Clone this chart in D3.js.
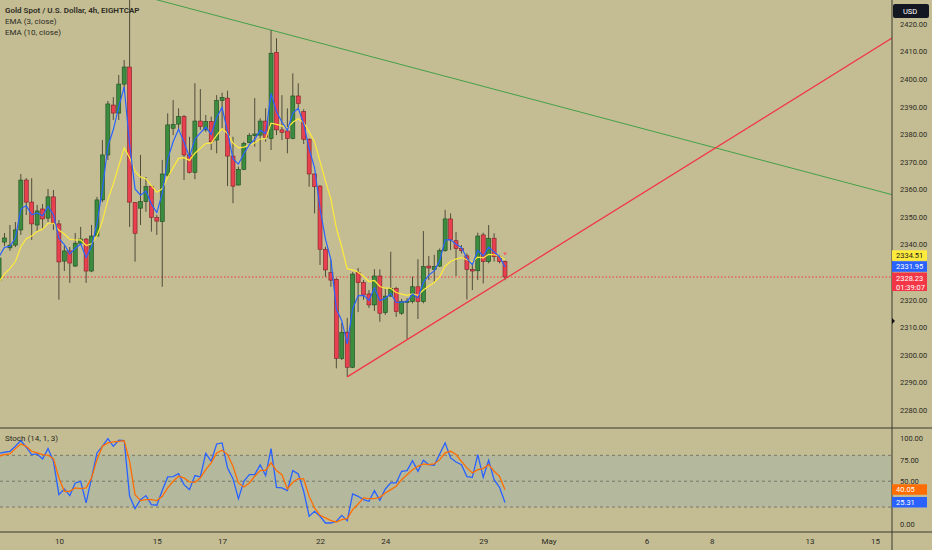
<!DOCTYPE html>
<html>
<head>
<meta charset="utf-8">
<script src="https://cdn.jsdelivr.net/npm/d3@7"></script>
<style>
  body { margin: 0; background: #c4bd94; }
  svg { display: block; font-family: Roboto, 'Noto Sans', sans-serif; }
</style>
</head>
<body>
<div id="chart-area"></div>
<script>
// 4h bars, index 0 = first full bar on screen, day labels sit on a day's first bar
const firstBar = -1;
const opens = [2327.1, 2340.9, 2338.8, 2339.8, 2345.3, 2363.4, 2355.4, 2347.1, 2352.9, 2349.6,
  2357.3, 2347.5, 2334.0, 2337.7, 2332.2, 2340.5, 2342.0, 2330.4, 2343.1, 2356.2,
  2372.5, 2390.6, 2387.7, 2398.2, 2404.4, 2355.2, 2353.2, 2355.6, 2361.0, 2349.8,
  2348.3, 2365.2, 2382.2, 2383.7, 2386.4, 2372.5, 2366.2, 2384.8, 2381.6, 2384.6,
  2377.9, 2392.2, 2393.1, 2372.1, 2361.6, 2367.3, 2377.0, 2379.5, 2379.7, 2384.8,
  2378.5, 2409.7, 2381.6, 2381.2, 2378.5, 2393.9, 2388.2, 2378.2, 2365.6, 2361.2,
  2338.3, 2329.8, 2327.4, 2298.7, 2308.2, 2295.5, 2329.8, 2326.2, 2322.1, 2318.1,
  2328.6, 2315.3, 2321.3, 2324.1, 2315.1, 2319.0, 2319.3, 2324.7, 2319.3, 2332.2,
  2331.0, 2332.2, 2337.8, 2349.3, 2341.4, 2338.6, 2335.9, 2331.0, 2330.5, 2343.5,
  2333.8, 2342.3, 2335.6, 2333.8];
const highs = [2336.6, 2344.2, 2347.1, 2348.2, 2365.6, 2364.1, 2364.1, 2354.4, 2354.7, 2360.2,
  2359.8, 2348.9, 2339.5, 2339.1, 2344.2, 2346.4, 2342.4, 2347.1, 2357.3, 2377.9,
  2392.1, 2393.5, 2401.5, 2406.9, 2431.4, 2355.4, 2372.5, 2364.5, 2361.6, 2350.7,
  2370.7, 2387.6, 2392.4, 2389.4, 2387.0, 2379.1, 2398.5, 2396.4, 2387.0, 2386.4,
  2394.2, 2395.1, 2395.8, 2379.1, 2368.3, 2377.3, 2380.4, 2393.1, 2385.8, 2389.4,
  2417.8, 2414.8, 2394.2, 2389.4, 2402.1, 2398.5, 2389.1, 2378.5, 2365.8, 2361.6,
  2339.2, 2334.4, 2327.8, 2311.6, 2313.4, 2330.0, 2331.5, 2327.1, 2323.5, 2331.1,
  2331.0, 2324.1, 2337.4, 2324.7, 2320.3, 2320.6, 2328.4, 2334.7, 2344.9, 2335.9,
  2336.3, 2338.6, 2352.6, 2351.3, 2344.6, 2339.8, 2336.8, 2333.2, 2344.3, 2344.3,
  2347.1, 2344.1, 2336.3, 2334.2];
const lows = [2323.5, 2339.5, 2337.7, 2339.1, 2343.5, 2350.7, 2341.7, 2344.9, 2345.3, 2348.2,
  2345.3, 2320.0, 2330.4, 2326.1, 2331.9, 2339.8, 2326.1, 2330.0, 2342.7, 2355.4,
  2370.7, 2385.2, 2385.2, 2396.1, 2346.4, 2333.8, 2347.1, 2351.9, 2344.7, 2343.5,
  2324.7, 2364.6, 2379.7, 2381.6, 2363.4, 2365.8, 2363.7, 2381.6, 2380.9, 2374.3,
  2373.1, 2381.6, 2361.2, 2355.0, 2361.4, 2367.0, 2376.7, 2375.5, 2370.1, 2377.3,
  2374.3, 2379.7, 2377.9, 2373.1, 2378.2, 2389.4, 2376.5, 2361.0, 2351.3, 2332.6,
  2328.3, 2324.7, 2295.1, 2298.1, 2292.0, 2295.2, 2315.5, 2320.0, 2317.0, 2315.9,
  2312.0, 2314.5, 2321.0, 2313.8, 2314.5, 2305.5, 2318.7, 2313.0, 2318.7, 2327.1,
  2326.5, 2331.9, 2337.4, 2338.0, 2328.6, 2336.8, 2320.1, 2323.5, 2327.1, 2325.9,
  2333.2, 2333.8, 2333.2, 2327.1];
const closes = [2335.1, 2342.4, 2339.8, 2345.3, 2363.4, 2355.4, 2347.5, 2352.2, 2349.3, 2357.3,
  2347.8, 2333.7, 2337.7, 2333.3, 2340.5, 2342.0, 2330.4, 2343.1, 2356.2, 2372.5,
  2391.0, 2387.7, 2398.2, 2404.4, 2355.4, 2344.1, 2355.6, 2361.0, 2349.9, 2348.5,
  2365.6, 2383.4, 2383.6, 2386.4, 2372.5, 2366.2, 2384.8, 2382.8, 2384.6, 2377.3,
  2392.2, 2393.4, 2372.1, 2361.2, 2367.3, 2376.7, 2379.5, 2380.1, 2384.8, 2378.9,
  2409.4, 2381.6, 2380.7, 2378.5, 2393.9, 2391.2, 2378.2, 2365.6, 2361.0, 2338.3,
  2330.8, 2327.1, 2298.7, 2308.2, 2295.5, 2329.3, 2326.2, 2321.7, 2318.1, 2328.6,
  2315.1, 2321.3, 2324.1, 2315.7, 2319.3, 2319.5, 2324.7, 2319.3, 2332.0, 2331.5,
  2332.0, 2337.8, 2349.3, 2341.7, 2338.6, 2337.8, 2331.0, 2330.4, 2343.1, 2333.8,
  2342.3, 2335.6, 2333.8, 2328.23];

// EMA values on the first visible bar (history is off screen)
const ema3Start = 2335.6;
const ema10Start = 2326.5;

const stochK = [82.4, 83.6, 84.7, 90.5, 97.1, 89.4, 80.9, 81.6, 75.8, 87.8,
  73.1, 34.4, 41.0, 33.3, 48.0, 49.9, 24.8, 53.8, 82.8, 90.5,
  99.4, 90.5, 97.5, 97.1, 32.5, 18.2, 28.6, 33.3, 22.8, 22.1,
  39.1, 54.9, 55.3, 58.8, 46.0, 40.2, 56.5, 54.9, 82.4, 73.1,
  93.2, 94.4, 65.4, 53.0, 29.8, 49.9, 57.6, 57.6, 69.0, 56.5,
  87.8, 42.9, 42.2, 39.1, 62.3, 58.4, 38.3, 9.3, 15.1, 9.3,
  1.5, 1.5, 3.5, 10.4, 4.3, 35.2, 32.5, 28.6, 26.7, 39.1,
  27.9, 41.0, 48.0, 48.0, 61.5, 62.3, 73.9, 61.5, 74.3, 69.2,
  68.5, 81.6, 94.4, 77.0, 72.3, 69.2, 55.3, 54.5, 80.9, 54.5,
  74.3, 51.8, 42.9, 25.31];
const stochD = [78.9, 80.9, 81.6, 87.8, 93.2, 90.5, 84.7, 82.8, 80.9, 80.1,
  76.2, 53.8, 38.3, 38.3, 42.2, 41.4, 42.2, 53.8, 75.0, 90.5,
  94.4, 95.6, 96.3, 97.1, 73.1, 34.4, 27.5, 28.6, 28.6, 27.5,
  32.5, 42.2, 49.9, 55.7, 53.8, 49.1, 48.7, 53.8, 63.4, 71.2,
  82.8, 85.9, 80.9, 67.3, 48.0, 43.3, 48.0, 55.7, 62.3, 62.7,
  71.2, 62.3, 57.6, 41.0, 48.7, 53.0, 52.6, 32.5, 19.0, 10.4,
  7.4, 4.3, 2.7, 5.4, 6.6, 17.0, 23.6, 30.6, 29.8, 29.8,
  31.3, 36.4, 40.2, 44.1, 51.8, 57.6, 63.4, 67.3, 70.0, 69.2,
  70.0, 75.0, 82.8, 84.7, 80.9, 73.1, 65.4, 59.6, 63.4, 64.6,
  69.2, 61.5, 55.7, 40.05];

const dayBars = [10, 28, 40, 58, 70, 88, 100, 118, 130, 148, 160];
const dayLabels = ['10', '15', '17', '22', '24', '29', 'May', '6', '8', '13', '15'];
// 2330 and 25 sit under the value tags, so they are not labelled
const priceTicks = [2280, 2290, 2300, 2310, 2320, 2340, 2350, 2360, 2370, 2380, 2390, 2400, 2410, 2420];
const stochTicks = [0, 50, 75, 100];
const stochBands = [20, 50, 80];

// trend lines: two anchors each [bar, price], extended to the right
const greenLine = [[23, 2431.4], [49, 2417.8]];
const redLine = [[63, 2292.0], [74, 2305.5]];

const lastPrice = 2328.23;
const countdown = '01:39:07';
const emaTags = [2334.51, 2331.95];   // EMA 10, EMA 3
const stochTags = [40.05, 25.31];     // %D, %K

const legendLines = ['Gold Spot / U.S. Dollar, 4h, EIGHTCAP', 'EMA (3, close)', 'EMA (10, close)'];

const width = 932, height = 550;
const paneRight = 892, mainBottom = 428, stochBottom = 532;

const bg = '#c4bd94', ink = '#2b2a22';
const upColor = '#3b8c3f', downColor = '#e8404e';

const svg = d3.select('#chart-area')
    .append('svg')
    .attr('width', width)
    .attr('height', height);

svg.append('rect').attr('width', width).attr('height', height).attr('fill', bg);

const defs = svg.append('defs');
defs.append('clipPath').attr('id', 'clip-main')
    .append('rect').attr('x', 0).attr('y', 0).attr('width', paneRight).attr('height', mainBottom);
defs.append('clipPath').attr('id', 'clip-stoch')
    .append('rect').attr('x', 0).attr('y', mainBottom).attr('width', paneRight).attr('height', stochBottom - mainBottom);

const xScale = d3.scaleLinear().domain([0, 160]).range([4.5, 4.5 + 160 * 5.44]);
const yScale = d3.scaleLinear().domain([2280, 2420]).range([410, 24]);
const stochY = d3.scaleLinear().domain([0, 100]).range([524.3, 438.1]);

const bars = opens.map((o, k) => ({
    i: firstBar + k, o: o, h: highs[k], l: lows[k], c: closes[k]
}));

function ema(values, period, start) {
    const a = 2 / (period + 1);
    const out = [start];
    for (let k = 1; k < values.length; k++) {
        out.push(out[k - 1] + a * (values[k] - out[k - 1]));
    }
    return out;
}

const ema3 = ema(closes, 3, ema3Start);
const ema10 = ema(closes, 10, ema10Start);

// ---- main pane
const main = svg.append('g').attr('clip-path', 'url(#clip-main)');

function trend(anchors) {
    const [a, b] = anchors;
    const slope = (b[1] - a[1]) / (b[0] - a[0]);
    const endBar = xScale.invert(paneRight);
    return [[a[0], a[1]], [endBar, a[1] + slope * (endBar - a[0])]];
}

main.append('line')
    .datum(trend(greenLine))
    .attr('x1', d => xScale(d[0][0])).attr('y1', d => yScale(d[0][1]))
    .attr('x2', d => xScale(d[1][0])).attr('y2', d => yScale(d[1][1]))
    .attr('stroke', '#43a047').attr('stroke-width', 1);

main.append('line')
    .attr('x1', 0).attr('x2', paneRight)
    .attr('y1', yScale(lastPrice)).attr('y2', yScale(lastPrice))
    .attr('stroke', '#f23645').attr('stroke-width', 1)
    .attr('stroke-dasharray', '1.5,2');

const candles = main.append('g').selectAll('g')
    .data(bars)
    .enter().append('g');

candles.append('line')
    .attr('x1', d => xScale(d.i)).attr('x2', d => xScale(d.i))
    .attr('y1', d => yScale(d.h)).attr('y2', d => yScale(d.l))
    .attr('stroke', '#4f4c3a').attr('stroke-width', 1);

candles.append('rect')
    .attr('x', d => xScale(d.i) - 2)
    .attr('width', 4)
    .attr('y', d => yScale(Math.max(d.o, d.c)))
    .attr('height', d => Math.max(1, Math.abs(yScale(d.o) - yScale(d.c))))
    .attr('fill', d => d.c >= d.o ? upColor : downColor)
    .attr('stroke', d => d.c >= d.o ? '#1f4a22' : '#7c2028')
    .attr('stroke-width', 0.6);

const priceLine = (vals) => d3.line()
    .x((v, k) => xScale(firstBar + k))
    .y(v => yScale(v))(vals);

main.append('path').attr('d', priceLine(ema10))
    .attr('fill', 'none').attr('stroke', '#ffeb3b').attr('stroke-width', 1.2);
main.append('path').attr('d', priceLine(ema3))
    .attr('fill', 'none').attr('stroke', '#2962ff').attr('stroke-width', 1.2);

main.append('line')
    .datum(trend(redLine))
    .attr('x1', d => xScale(d[0][0])).attr('y1', d => yScale(d[0][1]))
    .attr('x2', d => xScale(d[1][0])).attr('y2', d => yScale(d[1][1]))
    .attr('stroke', '#f23645').attr('stroke-width', 1.3);

// small marker above the last bar
const lastBar = bars[bars.length - 1];
const mx = xScale(lastBar.i), my = yScale(lastBar.h) - 6;
main.append('path')
    .attr('d', `M${mx - 2},${my - 2}L${mx + 2},${my - 2}L${mx},${my + 1}Z`)
    .attr('fill', '#f0606b');

// legend
svg.append('g').selectAll('text')
    .data(legendLines)
    .enter().append('text')
    .attr('x', 5)
    .attr('y', (d, k) => 13 + k * 11)
    .attr('font-size', 8)
    .attr('font-weight', (d, k) => k === 0 ? 600 : 400)
    .attr('fill', ink)
    .text(d => d);

// ---- stochastic pane
const stoch = svg.append('g').attr('clip-path', 'url(#clip-stoch)');

stoch.append('rect')
    .attr('x', 0).attr('width', paneRight)
    .attr('y', stochY(80)).attr('height', stochY(20) - stochY(80))
    .attr('fill', '#b4b99e');

stoch.selectAll('.band')
    .data(stochBands)
    .enter().append('line')
    .attr('class', 'band')
    .attr('x1', 0).attr('x2', paneRight)
    .attr('y1', d => stochY(d)).attr('y2', d => stochY(d))
    .attr('stroke', '#66665a').attr('stroke-width', 0.8)
    .attr('stroke-dasharray', '3,3');

const stochLine = (vals) => d3.line()
    .x((v, k) => xScale(firstBar + k))
    .y(v => stochY(v))(vals);

stoch.append('path').attr('d', stochLine(stochK))
    .attr('fill', 'none').attr('stroke', '#2962ff').attr('stroke-width', 1.3);
stoch.append('path').attr('d', stochLine(stochD))
    .attr('fill', 'none').attr('stroke', '#ff6d00').attr('stroke-width', 1.3);

svg.append('text')
    .attr('x', 5).attr('y', 441)
    .attr('font-size', 8).attr('fill', ink)
    .text('Stoch (14, 1, 3)');

// ---- separators and axes
svg.append('line').attr('x1', 0).attr('x2', width).attr('y1', mainBottom).attr('y2', mainBottom)
    .attr('stroke', '#3a392d').attr('stroke-width', 1);
svg.append('line').attr('x1', 0).attr('x2', width).attr('y1', stochBottom).attr('y2', stochBottom)
    .attr('stroke', '#3a392d').attr('stroke-width', 1);
svg.append('line').attr('x1', paneRight).attr('x2', paneRight).attr('y1', 0).attr('y2', height)
    .attr('stroke', '#3a392d').attr('stroke-width', 1);

const yAxisGroup = svg.append('g')
    .attr('transform', 'translate(' + (paneRight + 4) + ', 0)')
    .call(d3.axisRight(yScale).tickValues(priceTicks).tickFormat(d3.format('.2f')).tickSize(0));

const stochAxisGroup = svg.append('g')
    .attr('transform', 'translate(' + (paneRight + 4) + ', 0)')
    .call(d3.axisRight(stochY).tickValues(stochTicks).tickFormat(d3.format('.2f')).tickSize(0));

const xAxisGroup = svg.append('g')
    .attr('transform', 'translate(0, ' + (stochBottom + 2) + ')')
    .call(d3.axisBottom(xScale).tickValues(dayBars).tickFormat((d, k) => dayLabels[k]).tickSize(0));

[yAxisGroup, stochAxisGroup, xAxisGroup].forEach(ax => {
    ax.select('.domain').remove();
    ax.selectAll('text')
        .attr('fill', ink)
        .attr('font-size', 7.5)
        .attr('font-family', 'Roboto, sans-serif');
});
xAxisGroup.selectAll('text').attr('dy', '0.9em').attr('font-size', 8);
yAxisGroup.selectAll('text').attr('dx', 1);
stochAxisGroup.selectAll('text').attr('dx', 1);

// axis marker
svg.append('path')
    .attr('d', `M${paneRight},318L${paneRight + 3},321L${paneRight},324Z`)
    .attr('fill', '#111');

// USD box
svg.append('rect').attr('x', paneRight + 1).attr('y', 4).attr('width', 36).attr('height', 14)
    .attr('rx', 2).attr('fill', '#131722');
svg.append('text').attr('x', paneRight + 11).attr('y', 13.5)
    .attr('font-size', 7.5).attr('fill', '#ffffff').text('USD');

// price tags on the axes
function tag(y, h, fill, textFill, lines) {
    svg.append('rect')
        .attr('x', paneRight).attr('y', y).attr('width', 35).attr('height', h)
        .attr('fill', fill);
    lines.forEach((t, k) => {
        svg.append('text')
            .attr('x', paneRight + 4).attr('y', y + 8 + k * 9)
            .attr('font-size', 7.5).attr('fill', textFill)
            .text(t);
    });
}

const blueY = yScale(emaTags[1]);
const yellowY = Math.min(yScale(emaTags[0]), blueY - 11);
tag(yellowY - 5.5, 10.5, '#ffeb3b', '#1b1b1b', [emaTags[0].toFixed(2)]);
tag(blueY - 5.5, 10.5, '#2962ff', '#ffffff', [emaTags[1].toFixed(2)]);
tag(yScale(lastPrice) - 4.5, 18.5, '#f23645', '#ffffff', [lastPrice.toFixed(2), countdown]);

tag(stochY(stochTags[0]) - 5.5, 10.5, '#ff6d00', '#ffffff', [stochTags[0].toFixed(2)]);
tag(stochY(stochTags[1]) - 5.5, 10.5, '#2962ff', '#ffffff', [stochTags[1].toFixed(2)]);
</script>
</body>
</html>
